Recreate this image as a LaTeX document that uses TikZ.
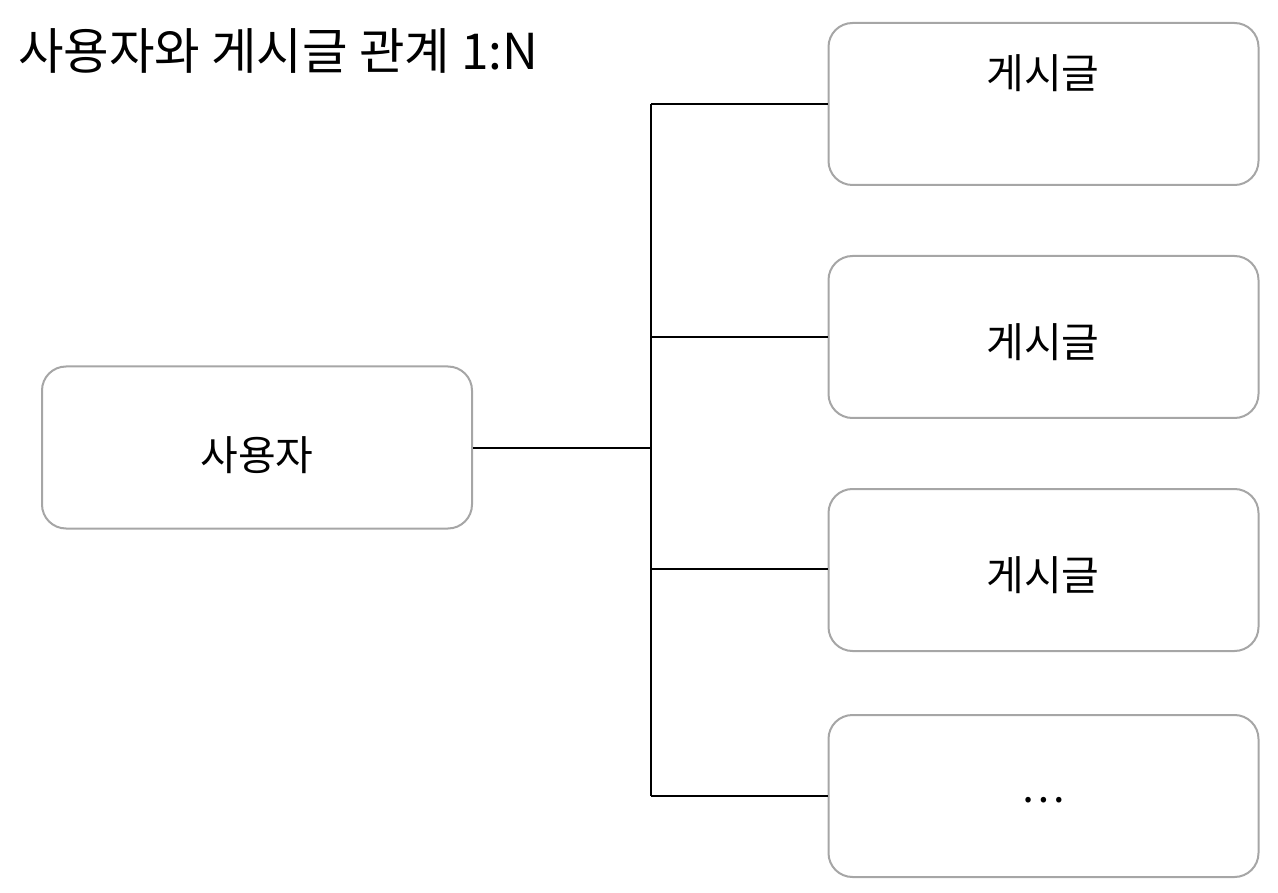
\documentclass[tikz,border=0pt]{standalone}
\usepackage{fontspec}
\setmainfont{Noto Sans CJK KR}
\begin{document}
\begin{tikzpicture}[x=1pt,y=-1pt,
  box/.style={draw=boxgray,line width=2pt,rounded corners=24pt,minimum width=430pt,minimum height=162pt,inner sep=0pt},
  lbl/.style={font=\fontsize{41}{44}\selectfont,inner sep=0pt,anchor=center},
  conn/.style={draw=black,line width=1.2pt}]
\definecolor{boxgray}{HTML}{A6A6A6}
\useasboundingbox (0,0) rectangle (1278,893);
\node[anchor=west,inner sep=0pt,font=\fontsize{49.5}{52}\selectfont] (title) at (18,51) {사용자와 게시글 관계 1:N};
\node[box] (user) at (257,447.5) {};
\node[lbl] (usert) at (257,455) {사용자};
\node[box] (p1) at (1043.5,104) {};
\node[lbl] (p1t) at (1043,73) {게시글};
\node[box] (p2) at (1043.5,337) {};
\node[lbl] (p2t) at (1043,342) {게시글};
\node[box] (p3) at (1043.5,570) {};
\node[lbl] (p3t) at (1043,575) {게시글};
\node[box] (p4) at (1043.5,796) {};
\node[lbl] (p4t) at (1043,800) {…};
\coordinate (j) at (651,448);
\coordinate (j1) at (651,104);
\coordinate (j2) at (651,337);
\coordinate (j3) at (651,569);
\coordinate (j4) at (651,796);
\draw[conn] (user.east |- j) -- (j);
\draw[conn] (j1) -- (j4);
\draw[conn] (j1) -- (p1.west |- j1);
\draw[conn] (j2) -- (p2.west |- j2);
\draw[conn] (j3) -- (p3.west |- j3);
\draw[conn] (j4) -- (p4.west |- j4);
\end{tikzpicture}
\end{document}
